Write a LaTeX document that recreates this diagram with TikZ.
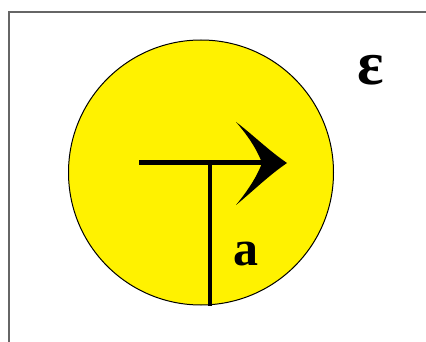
\documentclass[tikz,border=0pt]{standalone}
\usepackage{fontspec}
\setmainfont{Liberation Serif}
\begin{document}
\begin{tikzpicture}[x=1pt,y=-1pt,
  lbl/.style={font=\bfseries, inner sep=0pt},
  disc/.style={circle, draw=black, line width=1pt, fill=yellow, minimum size=265pt, inner sep=0pt}]
\useasboundingbox (0,0) rectangle (426,342);
\begin{scope}
\clip (0,0) rectangle (426,342);
\draw[line width=2pt, draw=black!60] (8.5,12.5) rectangle (440,360);
\end{scope}
\node[disc] (c) at (201,172.5) {};
\coordinate (hl) at (139,163);
\coordinate (hr) at (270,163);
\coordinate (j) at (210,163);
\draw[line width=5pt] (hl) -- (hr);
\draw[line width=3.5pt] (j) -- (c.south -| j);
\fill (287,163) .. controls (268,150) and (252,134) .. (236,122)
  .. controls (250,138) and (258,152) .. (262,163)
  .. controls (258,174) and (250,188) .. (236,205)
  .. controls (252,192) and (268,176) .. (287,163) -- cycle;
\node[lbl, font=\fontsize{50}{50}\selectfont\bfseries] (a) at (246,254) {a};
\node[lbl, font=\fontsize{62}{62}\selectfont\bfseries] (e) at (371,70) {ε};
\end{tikzpicture}
\end{document}
